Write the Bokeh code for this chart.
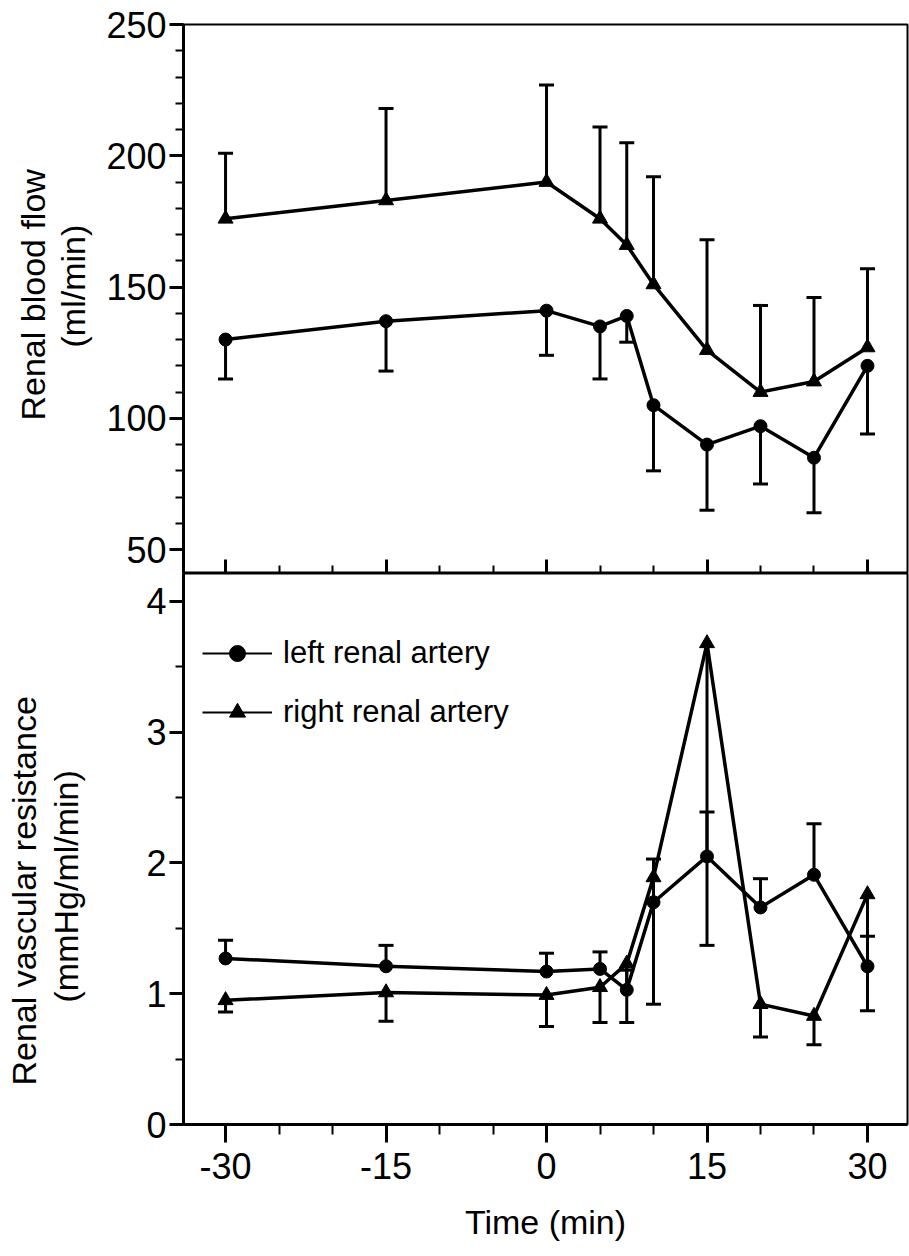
from bokeh.plotting import figure
from bokeh.models import (Range1d, FixedTicker, Title, Legend, LegendItem, ColumnDataSource,
                          LinearAxis)
from bokeh.layouts import column
from bokeh.embed import file_html
from bokeh.resources import INLINE

# ---------------- data ----------------
time_min = [-30, -15, 0, 5, 7.5, 10, 15, 20, 25, 30]

# Renal blood flow (ml/min)
rbf_left = [130, 137, 141, 135, 139, 105, 90, 97, 85, 120]
rbf_left_lower = [115, 118, 124, 115, 129, 80, 65, 75, 64, 94]
rbf_right = [176, 183, 190, 176, 166, 151, 126, 110, 114, 127]
rbf_right_upper = [201, 218, 227, 211, 205, 192, 168, 143, 146, 157]

# Renal vascular resistance (mmHg/ml/min)
rvr_left = [1.27, 1.21, 1.17, 1.19, 1.03, 1.70, 2.05, 1.66, 1.91, 1.21]
rvr_left_upper = [1.41, 1.37, 1.31, 1.32, 1.18, 2.03, 2.39, 1.88, 2.30, 1.44]
rvr_right = [0.95, 1.01, 0.99, 1.05, 1.23, 1.89, 3.68, 0.92, 0.83, 1.76]
rvr_right_lower = [0.86, 0.79, 0.75, 0.78, 0.78, 0.92, 1.37, 0.67, 0.61, 0.87]

x_ticks = [-30, -15, 0, 15, 30]
x_tick_labels = ["-30", "-15", "0", "15", "30"]
x_minor = [-25, -20, -10, -5, 5, 10, 20, 25]
rbf_ticks = [50, 100, 150, 200, 250]
rbf_minor = list(range(50, 251, 10))
rvr_ticks = [0, 1, 2, 3, 4]
rvr_minor = [0.5, 1.5, 2.5, 3.5]

series_labels = ["left renal artery", "right renal artery"]

FONT = "Liberation Sans"
X_RANGE = (-33.93, 33.74)
NAN = float("nan")


def style_fig(p):
    p.grid.visible = False
    p.outline_line_color = "black"
    p.outline_line_width = 2
    p.background_fill_color = "white"
    p.border_fill_color = "white"


def style_yaxis(ax, ticks, minor):
    ax.ticker = FixedTicker(ticks=ticks, minor_ticks=minor)
    ax.axis_line_width = 3
    ax.major_tick_line_width = 3
    ax.minor_tick_line_width = 2
    ax.major_tick_out = 14
    ax.major_tick_in = 0
    ax.minor_tick_out = 8
    ax.minor_tick_in = 0
    ax.major_label_text_font = FONT
    ax.major_label_text_font_size = "36px"
    ax.major_label_text_color = "black"
    ax.major_label_standoff = 3


def spacer_axis(width, at_tick):
    # an unlabeled, white-on-white axis that only reserves room between tick labels and titles
    return LinearAxis(ticker=FixedTicker(ticks=[at_tick], minor_ticks=[]), axis_line_color=None,
                      major_tick_line_color="white", minor_tick_line_color=None,
                      major_tick_out=width, major_tick_in=0, minor_tick_out=0,
                      major_label_overrides={at_tick: ""}, major_label_text_font_size="1px",
                      major_label_standoff=0)


def add_title(p, text, standoff, offset):
    p.add_layout(Title(text=text, align="left", text_font=FONT, text_font_size="34px",
                       text_font_style="normal", text_color="black",
                       standoff=standoff, offset=offset), "left")


def draw_series(p, y, bound, marker, size):
    src = ColumnDataSource(dict(t=time_min, y=y, b=bound))
    p.line("t", "y", source=src, line_color="black", line_width=3.5)
    p.segment(x0="t", y0="y", x1="t", y1="b", source=src, line_color="black", line_width=3)
    p.scatter("t", "b", source=src, marker="dash", size=15, line_color="black", line_width=3)
    p.scatter("t", "y", source=src, marker=marker, size=size,
              fill_color="black", line_color="black")


# ---------------- top panel ----------------
p1 = figure(width=909, height=573, x_range=Range1d(*X_RANGE), y_range=Range1d(40.9, 250),
            output_backend="svg", toolbar_location=None,
            min_border_left=183, min_border_right=2, min_border_top=24, min_border_bottom=0)
style_fig(p1)
style_yaxis(p1.yaxis[0], rbf_ticks, rbf_minor)
xa = p1.xaxis[0]
xa.ticker = FixedTicker(ticks=x_ticks, minor_ticks=x_minor)
xa.major_label_overrides = {t: "" for t in x_ticks}
xa.axis_line_width = 3
xa.major_tick_line_width = 3
xa.minor_tick_line_width = 2
xa.major_tick_in = 14
xa.major_tick_out = 0
xa.minor_tick_in = 8
xa.minor_tick_out = 0
xa.major_label_text_font_size = "1px"
xa.major_label_standoff = 0

p1.add_layout(spacer_axis(12, rbf_ticks[2]), "left")
add_title(p1, "(ml/min)", 0, 226)
add_title(p1, "Renal blood flow", 0, 153)

draw_series(p1, rbf_right, rbf_right_upper, "triangle", 15)
draw_series(p1, rbf_left, rbf_left_lower, "circle", 13)

# ---------------- bottom panel ----------------
p2 = figure(width=909, height=683, x_range=Range1d(*X_RANGE), y_range=Range1d(0, 4.214),
            output_backend="svg", toolbar_location=None,
            min_border_left=183, min_border_right=2, min_border_top=0, min_border_bottom=132)
style_fig(p2)
style_yaxis(p2.yaxis[0], rvr_ticks, rvr_minor)
xb = p2.xaxis[0]
xb.ticker = FixedTicker(ticks=x_ticks, minor_ticks=x_minor)
xb.major_label_overrides = {t: s for t, s in zip(x_ticks, x_tick_labels)}
xb.axis_line_width = 3
xb.major_tick_line_width = 3
xb.minor_tick_line_width = 2
xb.major_tick_out = 18
xb.major_tick_in = 0
xb.minor_tick_out = 10
xb.minor_tick_in = 0
xb.major_label_text_font = FONT
xb.major_label_text_font_size = "36px"
xb.major_label_text_color = "black"
xb.major_label_standoff = 10
xb.axis_label = "Time (min)"
xb.axis_label_text_font = FONT
xb.axis_label_text_font_size = "34px"
xb.axis_label_text_font_style = "normal"
xb.axis_label_text_color = "black"
xb.axis_label_standoff = 21

p2.add_layout(spacer_axis(58, rvr_ticks[2]), "left")
add_title(p2, "(mmHg/ml/min)", 2, 122)
add_title(p2, "Renal vascular resistance", 2, 39)

draw_series(p2, rvr_right, rvr_right_lower, "triangle", 15)
draw_series(p2, rvr_left, rvr_left_upper, "circle", 13)

# legend-only glyphs (thin line + small marker, as in the reference key); NaN so nothing plots
legL_src = ColumnDataSource(dict(t=[NAN], y=[NAN]))
legR_src = ColumnDataSource(dict(t=[NAN], y=[NAN]))
legL_line = p2.line("t", "y", source=legL_src, line_color="black", line_width=2)
legL_mark = p2.scatter("t", "y", source=legL_src, marker="circle", size=13,
                       fill_color="black", line_color="black")
legR_line = p2.line("t", "y", source=legR_src, line_color="black", line_width=2)
legR_mark = p2.scatter("t", "y", source=legR_src, marker="triangle", size=13,
                       fill_color="black", line_color="black")

legend = Legend(items=[LegendItem(label=series_labels[0], renderers=[legL_line, legL_mark]),
                       LegendItem(label=series_labels[1], renderers=[legR_line, legR_mark])],
                location=(19, 392), border_line_color=None, background_fill_alpha=0,
                padding=0, margin=0, spacing=19, glyph_width=70, glyph_height=40,
                label_height=40, label_standoff=11, label_text_font=FONT,
                label_text_font_size="31px", label_text_color="black")
p2.add_layout(legend)

layout = column(p1, p2, spacing=0)
open("out.html", "w").write(file_html(layout, INLINE))
